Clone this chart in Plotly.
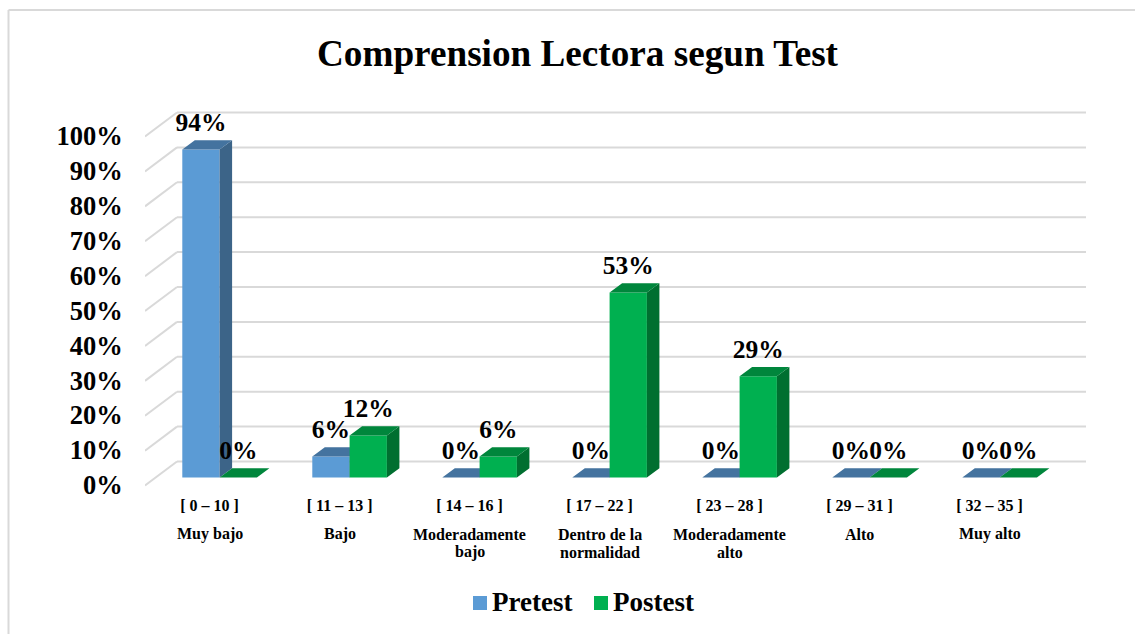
import plotly.graph_objects as go

categories = ["Muy bajo", "Bajo", "Moderadamente<br>bajo", "Dentro de la<br>normalidad",
              "Moderadamente<br>alto", "Alto", "Muy alto"]
ranges = ["[ 0 – 10 ]", "[ 11 – 13 ]", "[ 14 – 16 ]", "[ 17 – 22 ]",
          "[ 23 – 28 ]", "[ 29 – 31 ]", "[ 32 – 35 ]"]
pretest = [94, 6, 0, 0, 0, 0, 0]
posttest = [0, 12, 6, 53, 29, 0, 0]
y_ticks = [0, 10, 20, 30, 40, 50, 60, 70, 80, 90, 100]

W, H = 1135, 634
# plot area in pixels
LEFT, RIGHT, TOP, BOTTOM = 145, 1086, 100, 490
# one category = 130 px, one percent = 3.49 px, front floor sits at y=477.5
X_UNIT, Y_UNIT = 130.0, 3.49
X_ZERO, Y_ZERO = 219.6, 477.5

FONT = "Liberation Serif"
GRID = "#D9D9D9"

x_range = [(LEFT - X_ZERO) / X_UNIT, (RIGHT - X_ZERO) / X_UNIT]
y_range = [(Y_ZERO - BOTTOM) / Y_UNIT, (Y_ZERO - TOP) / Y_UNIT]

bar_w = 37.3 / X_UNIT
dx, dy = 12.5 / X_UNIT, 9.3 / Y_UNIT          # bar depth
wall_front = -2.15                            # tick position on the front edge
wall_back = (Y_ZERO - 461.5) / Y_UNIT         # back wall offset
wall_x = 177  # px, back corner of the left wall


def faces(values, offset):
    top_x, top_y, side_x, side_y = [], [], [], []
    for i, v in enumerate(values):
        x0 = i + offset - bar_w / 2
        x1 = i + offset + bar_w / 2
        top_x += [x0, x1, x1 + dx, x0 + dx, x0, None]
        top_y += [v, v, v + dy, v + dy, v, None]
        if v > 0:
            side_x += [x1, x1 + dx, x1 + dx, x1, x1, None]
            side_y += [0, dy, v + dy, v, 0, None]
    return top_x, top_y, side_x, side_y


def add_series(fig, name, values, offset, front, top, side, xa, ya):
    idx = list(range(len(values)))
    fig.add_trace(go.Bar(x=[i + offset for i in idx], y=values, width=bar_w, name=name,
                         marker=dict(color=front, line=dict(width=0)),
                         xaxis=xa, yaxis=ya, showlegend=False))
    top_x, top_y, side_x, side_y = faces(values, offset)
    for xs, ys, col in [(side_x, side_y, side), (top_x, top_y, top)]:
        fig.add_trace(go.Scatter(x=xs, y=ys, mode="lines", fill="toself", fillcolor=col,
                                 line=dict(width=0), hoverinfo="skip", showlegend=False,
                                 xaxis=xa, yaxis=ya))


fig = go.Figure()
# green goes on an overlaid axis pair so it stays above the blue faces
add_series(fig, "Pretest", pretest, -bar_w / 2, "#5B9BD5", "#44739F", "#3C6488", "x", "y")
add_series(fig, "Postest", posttest, bar_w / 2, "#00B050", "#00863C", "#006F30", "x2", "y2")

for values, offset in [(pretest, -bar_w / 2), (posttest, bar_w / 2)]:
    fig.add_trace(go.Scatter(x=[i + offset for i in range(len(values))],
                             y=[v + 24.5 / Y_UNIT for v in values],
                             text=[f"<b>{v}%</b>" for v in values], mode="text",
                             textposition="middle center",
                             textfont=dict(family=FONT, size=25.5, color="#000000"),
                             hoverinfo="skip", showlegend=False, xaxis="x2", yaxis="y2"))

# walls
shapes = []
wall_dx = (wall_x - LEFT) / X_UNIT
for t in y_ticks:
    shapes.append(dict(type="line", layer="below", xref="x", yref="y",
                       x0=x_range[0], y0=t - 2.3, x1=x_range[0] + wall_dx, y1=t + wall_back,
                       line=dict(color=GRID, width=2)))
    shapes.append(dict(type="line", layer="below", xref="x", yref="y",
                       x0=x_range[0] + wall_dx, y0=t + wall_back, x1=x_range[1], y1=t + wall_back,
                       line=dict(color=GRID, width=2)))


def px_x(x):
    return (x - LEFT) / (RIGHT - LEFT)


def px_y(y):
    return (BOTTOM - y) / (BOTTOM - TOP)


# outer frame, only top and left show in the picture
shapes.append(dict(type="line", layer="below", xref="paper", yref="paper",
                   x0=px_x(8.5), x1=px_x(W), y0=px_y(10), y1=px_y(10),
                   line=dict(color=GRID, width=2)))
shapes.append(dict(type="line", layer="below", xref="paper", yref="paper",
                   x0=px_x(8.5), x1=px_x(8.5), y0=px_y(10), y1=px_y(H),
                   line=dict(color=GRID, width=2)))

# legend by hand, the native swatch sits too far from its text
for col, sx in [("#5B9BD5", 473), ("#00B050", 594)]:
    shapes.append(dict(type="rect", xref="paper", yref="paper", x0=px_x(sx), x1=px_x(sx + 14),
                       y0=px_y(610), y1=px_y(596), fillcolor=col, line=dict(width=0)))

annotations = []
for name, tx in [("Pretest", 490), ("Postest", 611)]:
    annotations.append(dict(text=f"<b>{name}</b>", xref="paper", yref="paper", x=px_x(tx), y=px_y(602),
                            xanchor="left", yanchor="middle", showarrow=False,
                            font=dict(family=FONT, size=27, color="#000000")))

# category names, line by line because the spacing is tighter than plotly's <br>
for i, c in enumerate(categories):
    for j, line in enumerate(c.split("<br>")):
        annotations.append(dict(text=f"<b>{line}</b>", xref="x", yref="paper", x=i - 0.077, y=px_y(534 + 18 * j),
                                xanchor="center", yanchor="middle", showarrow=False, align="center",
                                font=dict(family=FONT, size=16, color="#000000")))

annotations.append(dict(text="<b>Comprension Lectora segun Test</b>", xref="paper", yref="paper",
                        x=px_x(578), y=px_y(54), xanchor="center", yanchor="middle", showarrow=False,
                        font=dict(family=FONT, size=37.2, color="#000000")))

fig.update_layout(
    width=W, height=H,
    margin=dict(l=LEFT, r=W - RIGHT, t=TOP, b=H - BOTTOM, pad=0),
    paper_bgcolor="#FFFFFF", plot_bgcolor="rgba(0,0,0,0)",
    barmode="overlay", showlegend=False,
    shapes=shapes, annotations=annotations,
    xaxis=dict(range=x_range, tickvals=[i - 0.077 for i in range(len(ranges))], ticktext=[f"<b>{r}</b>" for r in ranges],
               ticks="outside", ticklen=1, tickcolor="rgba(0,0,0,0)", showgrid=False, zeroline=False,
               showline=False, tickfont=dict(family=FONT, size=16, color="#000000")),
    yaxis=dict(range=y_range, tickvals=[t + wall_front for t in y_ticks],
               ticktext=[f"<b>{t}%</b>" for t in y_ticks], ticks="outside", ticklen=16,
               tickcolor="rgba(0,0,0,0)", showgrid=False, zeroline=False, showline=False,
               tickfont=dict(family=FONT, size=26.5, color="#000000")),
    xaxis2=dict(range=x_range, overlaying="x", visible=False),
    yaxis2=dict(range=y_range, overlaying="y", visible=False),
)

fig.write_html("out.html", config={"displayModeBar": False},
               post_script="document.body.style.margin='0';document.body.style.overflow='hidden';")
